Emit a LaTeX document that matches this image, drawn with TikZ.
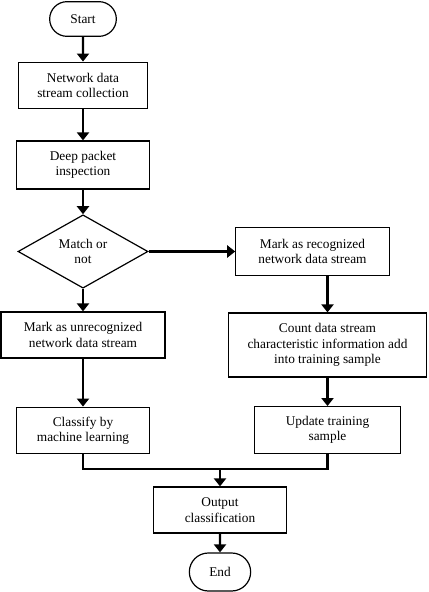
\documentclass[tikz,border=0pt]{standalone}
\usepackage{fontspec}
\setmainfont{Liberation Serif}
\usetikzlibrary{shapes.geometric}
\usetikzlibrary{shapes.misc}
\usetikzlibrary{arrows.meta}

\begin{document}
\begin{tikzpicture}[x=0.75pt, y=-0.75pt,
    every node/.style={draw, line width=0.9pt, align=center, inner sep=0pt,
      font=\fontsize{10}{11.5}\selectfont},
    box/.style={rectangle},
    term/.style={rounded rectangle},
    decision/.style={diamond, aspect=1.8},
    flow/.style={line width=1.6pt, -{Triangle[width=9pt,length=6pt]}},
  ]
  \useasboundingbox (0,0) rectangle (428,592);

  % Left column
  \node[term, minimum width=50pt, minimum height=26pt] (s) at (83,19) {Start};
  \node[box, minimum width=97pt, minimum height=35pt] (n) at (83,85.5) {Network data\\stream collection};
  \node[box, minimum width=100pt, minimum height=36pt] (p) at (83,165) {Deep packet\\inspection};
  \node[decision, minimum width=97.5pt, minimum height=55pt] (m) at (83,251.5) {Match or\\not};
  \node[box, minimum width=123pt, minimum height=34.5pt] (u) at (83,335) {Mark as unrecognized\\network data stream};
  \node[box, minimum width=100pt, minimum height=35pt] (c) at (83,430.5) {Classify by\\machine learning};

  % Right column
  \node[box, minimum width=115pt, minimum height=36pt] (r) at (312.5,251.5) {Mark as recognized\\network data stream};
  \node[box, minimum width=148pt, minimum height=48pt] (k) at (327.5,345) {Count data stream\\characteristic information add\\into training sample};
  \node[box, minimum width=110pt, minimum height=35pt] (t) at (327.5,430) {Update training\\sample};

  % Bottom
  \node[box, minimum width=100pt, minimum height=34.5pt] (o) at (220,510) {Output\\classification};
  \node[term, minimum width=46pt, minimum height=28.5pt] (e) at (220,572) {End};
  \coordinate (j) at (220,469);

  % Connectors
  \draw[flow] (s) -- (n);
  \draw[flow] (n) -- (p);
  \draw[flow] (p) -- (m);
  \draw[flow] (m) -- (u);
  \draw[flow] (m) -- (r);
  \draw[flow] (u) -- (c);
  \draw[flow] (r.south -| k.north) -- (k);
  \draw[flow] (k) -- (t);
  \draw[line width=1.6pt] (c.south) |- (j) -| (t.south);
  \draw[flow] (j) -- (o);
  \draw[flow] (o) -- (e);

\end{tikzpicture}
\end{document}
